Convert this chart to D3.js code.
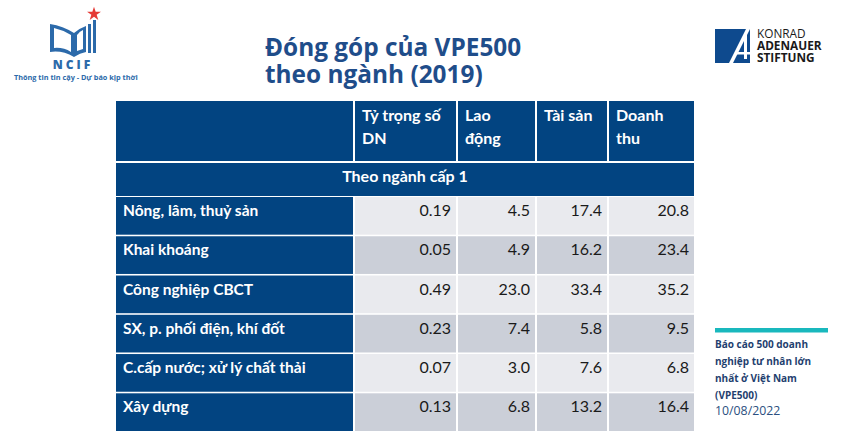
<!DOCTYPE html>
<html><head><meta charset="utf-8">
<script src="https://cdn.jsdelivr.net/npm/d3@7"></script>
<style>
html,body{margin:0;padding:0;background:#fff;}
svg{display:block;}
</style></head>
<body>
<svg id="c" width="844" height="442"></svg>
<script>
// ---- data ----
const titleLines = ["Đóng góp của VPE500", "theo ngành (2019)"];
const columns = ["", "Tỷ trọng số\nDN", "Lao\nđộng", "Tài sản", "Doanh\nthu"];
const groupLabel = "Theo ngành cấp 1";
const categories = ["Nông, lâm, thuỷ sản", "Khai khoáng", "Công nghiệp CBCT", "SX, p. phối điện, khí đốt", "C.cấp nước; xử lý chất thải", "Xây dựng"];
const shareDN   = [0.19, 0.05, 0.49, 0.23, 0.07, 0.13];
const laoDong   = [4.5, 4.9, 23.0, 7.4, 3.0, 6.8];
const taiSan    = [17.4, 16.2, 33.4, 5.8, 7.6, 13.2];
const doanhThu  = [20.8, 23.4, 35.2, 9.5, 6.8, 16.4];
const sideNote = ["Báo cáo 500 doanh", "nghiệp tư nhân lớn", "nhất ở Việt Nam", "(VPE500)"];
const sideDate = "10/08/2022";

// ---- layout ----
const svg = d3.select("#c");
const BLUE = "#024481", LIGHT = "#e9eaee", DARK = "#cbcfd8";
const tableFont = "Lato, 'Open Sans', sans-serif";
const colEdges = [116, 355, 458, 537, 609, 696];
const colX = d3.scaleOrdinal().domain(d3.range(5)).range(colEdges.slice(0, 5));
const colW = i => colEdges[i + 1] - colEdges[i];
const y = d3.scaleBand().domain(categories).range([197, 431]).paddingInner(0.04).paddingOuter(0);
const fmt = [d3.format(".2f"), d3.format(".1f"), d3.format(".1f"), d3.format(".1f")];
const series = [shareDN, laoDong, taiSan, doanhThu];

// title
svg.append("g").selectAll("text").data(titleLines).join("text")
  .attr("x", 265).attr("y", (d, i) => 56 + i * 27)
  .attr("font-family", "'Open Sans', sans-serif").attr("font-weight", 700)
  .attr("font-size", 24.4).attr("fill", "#1f4d8a").text(d => d);

// header row
const hdr = svg.append("g");
columns.forEach((c, i) => {
  hdr.append("rect").attr("x", colX(i)).attr("y", 101).attr("width", colW(i) - 2).attr("height", 60).attr("fill", BLUE);
  c.split("\n").forEach((ln, k) => {
    if (!ln) return;
    hdr.append("text").attr("x", colX(i) + 7).attr("y", 121 + k * 23)
      .attr("font-family", tableFont).attr("font-weight", 700).attr("font-size", 16)
      .attr("fill", "#fff").text(ln);
  });
});
// group row
hdr.append("rect").attr("x", 116).attr("y", 163).attr("width", 696 - 116 - 2).attr("height", 33).attr("fill", BLUE);
hdr.append("text").attr("x", (116 + 694) / 2).attr("y", 182).attr("text-anchor", "middle")
  .attr("font-family", tableFont).attr("font-weight", 700).attr("font-size", 16).attr("fill", "#fff").text(groupLabel);

// body rows
const rows = svg.append("g").selectAll("g").data(categories).join("g")
  .attr("transform", d => `translate(0,${y(d)})`);
rows.append("rect").attr("x", colX(0)).attr("width", colW(0) - 2).attr("height", y.bandwidth()).attr("fill", BLUE);
rows.append("text").attr("x", colX(0) + 7).attr("y", 19)
  .attr("font-family", tableFont).attr("font-weight", 700).attr("font-size", 15.5).attr("fill", "#fff").text(d => d);
series.forEach((s, j) => {
  rows.append("rect").attr("x", colX(j + 1)).attr("width", colW(j + 1) - 2).attr("height", y.bandwidth())
    .attr("fill", (d, i) => i % 2 === 0 ? LIGHT : DARK);
  rows.append("text").attr("x", colX(j + 1) + colW(j + 1) - 7).attr("y", 19).attr("text-anchor", "end")
    .attr("font-family", tableFont).attr("font-size", 16).attr("fill", "#1a1a1a")
    .text((d, i) => fmt[j](s[i]));
});

// NCIF logo
const logo = svg.append("g");
const LB = "#2c6aaa";
logo.append("path").attr("d", "M50,24 L50,52 Q62,50 74,57 L74,33 Q63,26 50,24 Z").attr("fill", LB);
logo.append("path").attr("d", "M54,28 L54,48 Q63,47 71,52 L71,35 Q63,30 54,28 Z").attr("fill", "#fff");
logo.append("path").attr("d", "M74,57 L74,33 Q80,28 86,26 L86,52 Q80,53 74,57 Z").attr("fill", LB);
logo.append("path").attr("d", "M77,51 L77,35 Q80,31 83,30 L83,49 Q80,50 77,51 Z").attr("fill", "#fff");
[[88, 24, 3], [93, 20, 3]].forEach(b => logo.append("rect").attr("x", b[0]).attr("y", b[1]).attr("width", b[2]).attr("height", 56 - b[1] - 3).attr("fill", LB));
const star = d3.symbol().type(d3.symbolStar).size(60);
logo.append("path").attr("d", star()).attr("transform", "translate(94,14)").attr("fill", "#e53935");
logo.append("text").attr("x", 73).attr("y", 69).attr("text-anchor", "middle")
  .attr("font-family", "'Open Sans', sans-serif").attr("font-weight", 800).attr("font-size", 12)
  .attr("letter-spacing", 3).attr("fill", LB).text("NCIF");
logo.append("text").attr("x", 14).attr("y", 80)
  .attr("font-family", "'Open Sans', sans-serif").attr("font-weight", 700).attr("font-size", 7.3)
  .attr("fill", LB).text("Thông tin tin cậy - Dự báo kịp thời");

// KAS logo
const kas = svg.append("g");
kas.append("rect").attr("x", 715).attr("y", 29).attr("width", 35).attr("height", 34).attr("fill", "#0e4a8e");
kas.append("path").attr("d", "M729,63 L746,29 L750,29 L733,63 Z").attr("fill", "#fff");
kas.append("rect").attr("x", 737).attr("y", 52).attr("width", 13).attr("height", 2.5).attr("fill", "#fff");
kas.append("rect").attr("x", 744).attr("y", 33).attr("width", 3).attr("height", 26).attr("fill", "#fff");
[["KONRAD", 400, 38], ["ADENAUER", 700, 50], ["STIFTUNG", 700, 62]].forEach(t => {
  kas.append("text").attr("x", 757).attr("y", t[2]).attr("font-family", "'Open Sans', sans-serif")
    .attr("font-weight", t[1]).attr("font-size", 11.8).attr("fill", "#1a1a1a").text(t[0]);
});

// side note
const side = svg.append("g");
side.append("rect").attr("x", 715).attr("y", 328).attr("width", 113).attr("height", 4.5).attr("fill", "#19b8bd");
side.selectAll("text.n").data(sideNote).join("text").attr("class", "n")
  .attr("x", 715).attr("y", (d, i) => 348 + i * 17)
  .attr("font-family", "'Open Sans', sans-serif").attr("font-weight", 700).attr("font-size", 10)
  .attr("fill", "#1f3f6f").text(d => d);
side.append("text").attr("x", 715).attr("y", 415).attr("font-family", "'Open Sans', sans-serif")
  .attr("font-size", 12.3).attr("fill", "#2b4f80").text(sideDate);
</script>
</body></html>
